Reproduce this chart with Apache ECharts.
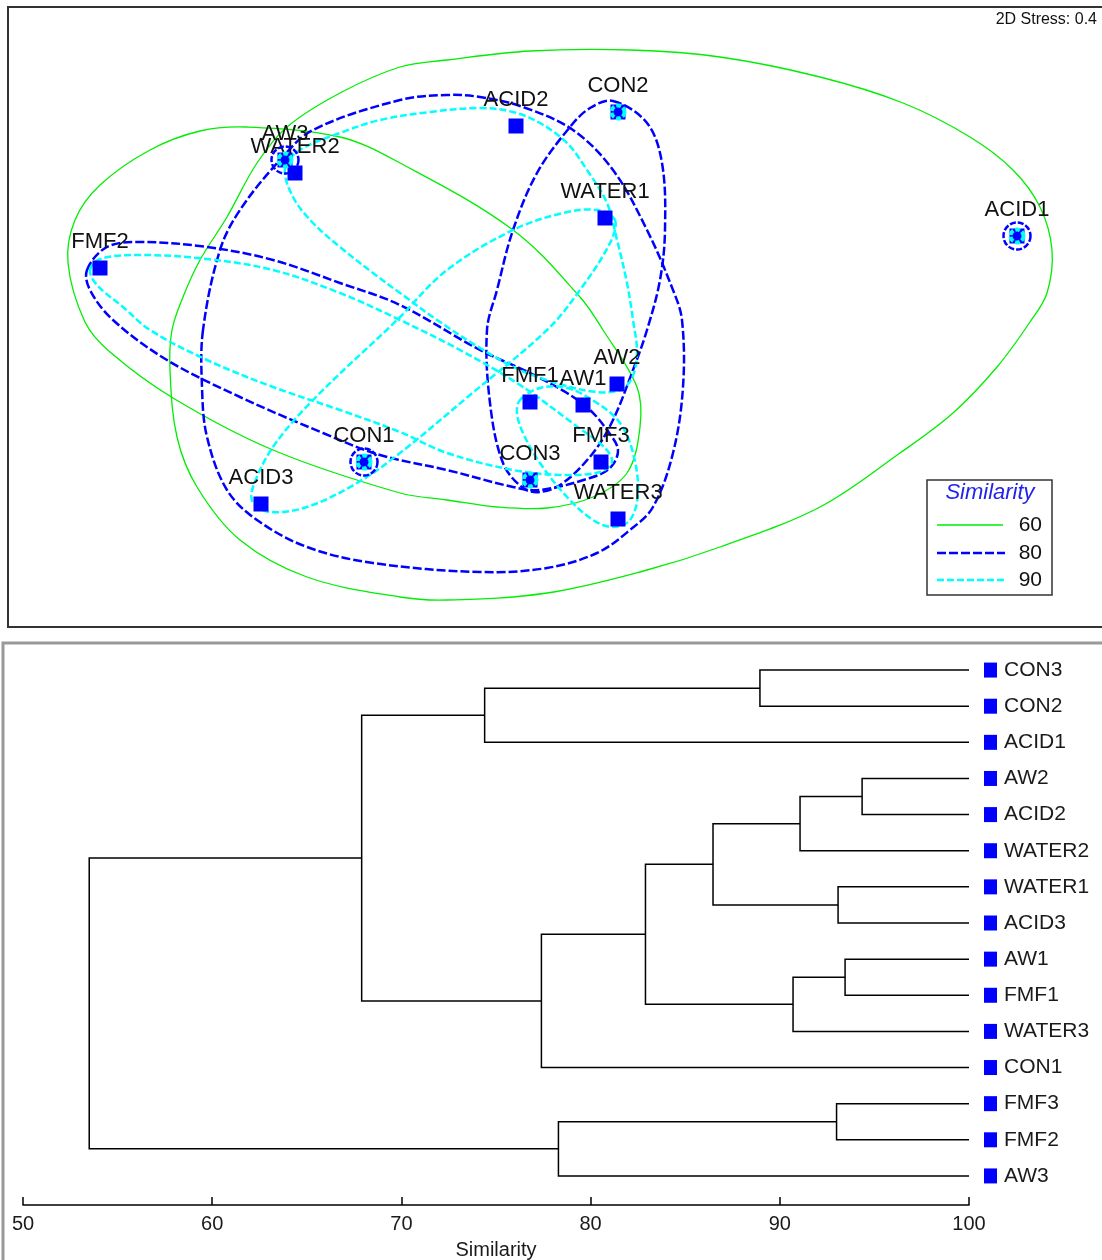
<!DOCTYPE html>
<html><head><meta charset="utf-8">
<script src="https://cdn.jsdelivr.net/npm/echarts@6/dist/echarts.min.js"></script>
<style>html,body{margin:0;padding:0;background:#fff}#c{width:1102px;height:1260px}</style>
</head><body><div id="c"></div>
<script>
// ---------- MDS ordination (top panel) ----------
const sampleNames = ['CON2','ACID2','AW3','WATER2','WATER1','ACID1','FMF2','AW2','FMF1','AW1','FMF3','CON1','CON3','ACID3','WATER3'];
const mdsX = [0.63,-0.39,-2.70,-2.60,0.50,4.62,-4.55,0.62,-0.25,0.28,0.46,-1.91,-0.25,-2.94,0.63];
const mdsY = [2.05,1.91,1.57,1.44,0.99,0.81,0.49,-0.67,-0.85,-0.88,-1.45,-1.45,-1.63,-1.87,-2.02];
const stressText = '2D Stress: 0.4';
const levelNames = ['60','80','90'];

// similarity contours (MDS units)
const loop60All = [[-3.83,-0.13],[-3.72,0.20],[-3.55,0.57],[-3.28,1.00],[-2.98,1.54],[-2.68,1.90],[-2.15,2.24],[-1.55,2.50],[-1.08,2.57],[-0.25,2.66],[0.75,2.67],[1.65,2.60],[2.65,2.40],[3.48,2.14],[4.15,1.80],[4.58,1.47],[4.85,1.10],[4.97,0.67],[4.92,0.24],[4.75,-0.05],[4.42,-0.50],[3.98,-0.96],[3.45,-1.36],[2.65,-1.90],[1.65,-2.30],[0.92,-2.53],[-0.08,-2.76],[-1.08,-2.83],[-1.55,-2.80],[-2.48,-2.60],[-3.15,-2.23],[-3.58,-1.70],[-3.78,-1.20],[-3.85,-0.53]];
const loop60FMF = [[-3.08,1.90],[-2.15,1.80],[-1.55,1.54],[-0.42,0.87],[0.25,0.20],[0.48,-0.13],[0.82,-0.70],[0.85,-1.10],[0.72,-1.56],[0.38,-1.80],[-0.08,-1.91],[-0.58,-1.90],[-1.08,-1.83],[-1.55,-1.76],[-2.82,-1.33],[-3.82,-0.81],[-4.45,-0.35],[-4.70,-0.05],[-4.87,0.54],[-4.80,0.97],[-4.55,1.32],[-4.05,1.67],[-3.55,1.86]];
const loop80Main = [[-3.52,-0.13],[-3.53,-0.70],[-3.48,-1.20],[-3.28,-1.73],[-2.98,-2.03],[-2.48,-2.30],[-1.82,-2.46],[-0.75,-2.55],[-0.08,-2.51],[0.42,-2.36],[0.75,-2.13],[0.98,-1.90],[1.18,-1.36],[1.28,-0.70],[1.27,-0.03],[1.18,0.27],[0.92,0.87],[0.58,1.47],[0.18,1.87],[-0.32,2.10],[-0.75,2.20],[-1.08,2.22],[-1.55,2.17],[-2.42,1.87],[-2.75,1.57],[-3.15,1.07],[-3.35,0.67]];
const loop80CON = [[0.58,2.16],[0.92,1.94],[1.07,1.54],[1.10,0.87],[1.05,0.37],[0.92,-0.13],[0.78,-0.53],[0.58,-1.03],[0.38,-1.36],[0.08,-1.66],[-0.15,-1.75],[-0.32,-1.71],[-0.52,-1.46],[-0.65,-0.86],[-0.68,-0.13],[-0.58,0.27],[-0.42,0.87],[-0.18,1.44],[0.15,1.90],[0.35,2.09]];
const loop80FMF = [[-4.68,0.47],[-4.48,0.70],[-4.15,0.75],[-3.48,0.70],[-2.82,0.57],[-2.15,0.34],[-1.55,0.12],[-0.75,-0.33],[-0.25,-0.56],[0.12,-0.76],[0.35,-0.93],[0.52,-1.13],[0.63,-1.33],[0.55,-1.51],[0.35,-1.61],[-0.15,-1.73],[-0.42,-1.70],[-1.08,-1.53],[-1.75,-1.38],[-2.32,-1.16],[-3.15,-0.80],[-3.88,-0.43],[-4.42,-0.03],[-4.65,0.27]];
const loop90WATER2 = [[-2.70,1.49],[-2.55,1.67],[-2.15,1.84],[-1.75,1.97],[-1.25,2.05],[-0.75,2.09],[-0.42,2.05],[-0.15,1.94],[0.12,1.74],[0.32,1.47],[0.52,1.14],[0.62,0.77],[0.72,0.34],[0.78,-0.03],[0.82,-0.36],[0.77,-0.61],[0.65,-0.73],[0.42,-0.75],[0.08,-0.68],[-0.35,-0.53],[-0.75,-0.31],[-1.15,-0.05],[-1.55,0.24],[-1.82,0.44],[-2.15,0.70],[-2.42,0.94],[-2.62,1.20]];
const loop90WATER1 = [[0.60,0.97],[0.55,0.74],[0.25,0.27],[-0.08,-0.13],[-0.85,-0.78],[-1.55,-1.36],[-1.98,-1.66],[-2.48,-1.90],[-2.85,-1.95],[-3.02,-1.86],[-3.02,-1.70],[-2.82,-1.30],[-2.42,-0.83],[-1.58,-0.03],[-1.08,0.47],[-0.42,0.87],[0.08,1.04],[0.42,1.07]];
const loop90AW1 = [[-0.35,-0.83],[-0.15,-0.71],[0.12,-0.71],[0.42,-0.86],[0.65,-1.06],[0.78,-1.36],[0.83,-1.76],[0.75,-2.03],[0.58,-2.10],[0.38,-2.03],[0.12,-1.80],[-0.15,-1.46],[-0.32,-1.16],[-0.38,-0.96]];
const loop90FMF = [[-4.65,0.47],[-4.55,0.58],[-4.15,0.62],[-3.48,0.58],[-2.82,0.47],[-2.15,0.24],[-1.55,-0.03],[-0.95,-0.33],[-0.35,-0.68],[0.20,-1.08],[0.50,-1.31],[0.57,-1.45],[0.45,-1.55],[0.08,-1.58],[-0.42,-1.53],[-1.08,-1.36],[-1.55,-1.15],[-2.15,-0.93],[-2.82,-0.70],[-3.48,-0.43],[-4.05,-0.13],[-4.32,0.10],[-4.58,0.32]];
const singletons80 = ['ACID1','CON1','AW3'];
const singletons90 = ['CON3','CON2','ACID1','CON1','AW3'];

// ---------- dendrogram (bottom panel) ----------
const leafNames = ['CON3','CON2','ACID1','AW2','ACID2','WATER2','WATER1','ACID3','AW1','FMF1','WATER3','CON1','FMF3','FMF2','AW3'];
// node ids: 0..14 = leaves, 15.. = merges in this order
const mergeA   = [0, 15, 3, 17, 6, 18, 8, 21, 20, 23, 16, 12, 26, 25];
const mergeB   = [1, 2, 4, 5, 7, 19, 9, 10, 22, 11, 24, 13, 14, 27];
const mergeSim = [88.95, 74.4, 94.35, 91.07, 93.08, 86.47, 93.45, 90.7, 82.9, 77.4, 67.9, 93.0, 78.3, 53.5];
const simTicks = [50, 60, 70, 80, 90, 100];

const FONT = 'Liberation Sans, Arial, sans-serif';
const nLeaf = leafNames.length;
const nodeY = [];
function posOf(id) {
  if (id < nLeaf) return { x: simTicks[simTicks.length - 1], y: id };
  return { x: mergeSim[id - nLeaf], y: nodeY[id - nLeaf] };
}
for (let k = 0; k < mergeSim.length; k++) {
  nodeY.push((posOf(mergeA[k]).y + posOf(mergeB[k]).y) / 2);
}

function contourSeries(name, loops, color, width, dash, z) {
  return {
    type: 'custom', name: name, xAxisIndex: 0, yAxisIndex: 0, z: z,
    data: loops.map((l, i) => [l[0][0], l[0][1], i]),
    encode: { x: 0, y: 1 },
    silent: true,
    renderItem: function (params, api) {
      const loop = loops[api.value(2)];
      const pts = loop.map(p => api.coord(p));
      return {
        type: 'polygon',
        shape: { points: pts, smooth: 0.35 },
        style: { fill: 'none', stroke: color, lineWidth: width, lineDash: dash }
      };
    }
  };
}

const idx = n => sampleNames.indexOf(n);
const chart = echarts.init(document.getElementById('c'), null, { renderer: 'canvas' });

const option = {
  animation: false,
  backgroundColor: '#ffffff',
  grid: [
    { left: 8, top: 7, width: 1094, height: 620, outerBoundsMode: 'none', containLabel: false },
    { left: 23, top: 652, width: 946, height: 542, outerBoundsMode: 'none', containLabel: false }
  ],
  xAxis: [
    { gridIndex: 0, type: 'value', min: -5.47, max: 5.47, show: false },
    {
      gridIndex: 1, type: 'value', min: simTicks[0], max: simTicks[simTicks.length - 1], interval: 10, position: 'bottom', offset: 11,
      axisLine: { show: true, onZero: false, lineStyle: { color: '#000', width: 1.5 } },
      axisTick: { show: true, inside: true, length: 8, lineStyle: { color: '#000', width: 1.5 } },
      axisLabel: { color: '#1a1a1a', fontSize: 20, fontFamily: FONT, margin: 9 },
      splitLine: { show: false },
      name: 'Similarity', nameLocation: 'middle', nameGap: 35,
      nameTextStyle: { color: '#1a1a1a', fontSize: 20, fontFamily: FONT }
    }
  ],
  yAxis: [
    { gridIndex: 0, type: 'value', min: -3.10, max: 3.10, show: false },
    { gridIndex: 1, type: 'value', min: -0.5, max: nLeaf - 0.5, inverse: true, show: false },
    {
      gridIndex: 1, type: 'category', data: leafNames, inverse: true, position: 'right',
      axisLine: { show: false }, axisTick: { show: false }, splitLine: { show: false },
      axisLabel: {
        margin: 15, interval: 0,
        formatter: v => '{sq| }{t|' + v + '}',
        rich: {
          sq: { width: 13, height: 15, backgroundColor: '#0000ff' },
          t: { fontSize: 21, fontFamily: FONT, color: '#1a1a1a', padding: [0, 0, 0, 7] }
        }
      }
    }
  ],
  series: [
    contourSeries('60', [loop60All, loop60FMF], '#00ee00', 1.3, null, 2),
    contourSeries('80', [loop80Main, loop80CON, loop80FMF], '#0000ff', 2.5, [9, 3], 3),
    contourSeries('90', [loop90WATER2, loop90WATER1, loop90AW1, loop90FMF], '#00ffff', 2.5, [7, 3], 4),
    {
      type: 'scatter', name: 'samples', xAxisIndex: 0, yAxisIndex: 0, z: 5,
      symbol: 'rect', symbolSize: 15,
      itemStyle: { color: '#0000ff', opacity: 1 },
      data: sampleNames.map((n, i) => ({ name: n, value: [mdsX[i], mdsY[i]] })),
      label: {
        show: true, formatter: '{b}', position: 'inside', offset: [0, -26],
        color: '#111', fontSize: 22, fontFamily: FONT
      },
      silent: true
    },
    {
      type: 'scatter', name: 'ring90', xAxisIndex: 0, yAxisIndex: 0, z: 6,
      symbol: 'circle', symbolSize: 13,
      itemStyle: { color: 'rgba(0,0,0,0)', opacity: 1, borderColor: '#00ffff', borderWidth: 4, borderType: [5, 2] },
      data: singletons90.map(n => [mdsX[idx(n)], mdsY[idx(n)]]),
      silent: true
    },
    {
      type: 'scatter', name: 'ring80', xAxisIndex: 0, yAxisIndex: 0, z: 6,
      symbol: 'circle', symbolSize: 27,
      itemStyle: { color: 'rgba(0,0,0,0)', opacity: 1, borderColor: '#0000ff', borderWidth: 2.5, borderType: [6, 2] },
      data: singletons80.map(n => [mdsX[idx(n)], mdsY[idx(n)]]),
      silent: true
    },
    {
      type: 'custom', name: 'dendrogram', xAxisIndex: 1, yAxisIndex: 1, z: 3, silent: true,
      data: mergeSim.map((s, k) => [s, nodeY[k], k]),
      encode: { x: 0, y: 1 },
      renderItem: function (params, api) {
        const k = api.value(2);
        const s = mergeSim[k];
        const a = posOf(mergeA[k]), b = posOf(mergeB[k]);
        const pts = [[a.x, a.y], [s, a.y], [s, b.y], [b.x, b.y]].map(p => api.coord(p));
        return { type: 'polyline', shape: { points: pts }, style: { fill: 'none', stroke: '#000', lineWidth: 1.5 } };
      }
    }
  ],
  graphic: [
    { type: 'rect', z: 0, shape: { x: 8, y: 7, width: 1110, height: 620 }, style: { fill: 'none', stroke: '#333', lineWidth: 2 } },
    { type: 'rect', z: 0, shape: { x: 3, y: 643, width: 1115, height: 640 }, style: { fill: 'none', stroke: '#999', lineWidth: 3 } },
    { type: 'text', z: 10, x: 1097, y: 20, style: { text: stressText, fill: '#111', font: '16px ' + FONT, align: 'right', verticalAlign: 'middle' } },
    {
      type: 'group', z: 20, children: [
        { type: 'rect', shape: { x: 927, y: 480, width: 125, height: 115 }, style: { fill: '#fff', stroke: '#333', lineWidth: 1.5 } },
        { type: 'text', x: 990, y: 493, style: { text: 'Similarity', fill: '#2222ee', font: 'italic 22px ' + FONT, align: 'center', verticalAlign: 'middle' } },
        { type: 'line', shape: { x1: 937, y1: 525, x2: 1003, y2: 525 }, style: { stroke: '#00ee00', lineWidth: 1.3 } },
        { type: 'line', shape: { x1: 937, y1: 553, x2: 1005, y2: 553 }, style: { stroke: '#0000ff', lineWidth: 2.5, lineDash: [9, 3] } },
        { type: 'line', shape: { x1: 937, y1: 580, x2: 1005, y2: 580 }, style: { stroke: '#00ffff', lineWidth: 2.5, lineDash: [7, 3] } },
        { type: 'text', x: 1042, y: 525, style: { text: levelNames[0], fill: '#111', font: '21px ' + FONT, align: 'right', verticalAlign: 'middle' } },
        { type: 'text', x: 1042, y: 553, style: { text: levelNames[1], fill: '#111', font: '21px ' + FONT, align: 'right', verticalAlign: 'middle' } },
        { type: 'text', x: 1042, y: 580, style: { text: levelNames[2], fill: '#111', font: '21px ' + FONT, align: 'right', verticalAlign: 'middle' } }
      ]
    }
  ]
};
chart.setOption(option);
</script></body></html>
